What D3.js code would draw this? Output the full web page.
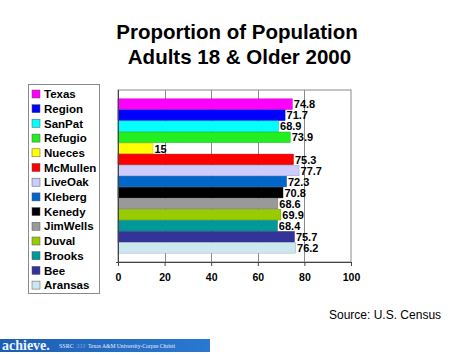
<!DOCTYPE html>
<html>
<head>
<meta charset="utf-8">
<script src="https://cdn.jsdelivr.net/npm/d3@7"></script>
<style>
  html, body { margin: 0; padding: 0; background: #fff; }
  svg { display: block; font-family: "Liberation Sans", Arial, Helvetica, sans-serif; }
</style>
</head>
<body>
<svg id="chart" width="474" height="355"></svg>
<script>
const categories = ["Texas","Region","SanPat","Refugio","Nueces","McMullen","LiveOak","Kleberg","Kenedy","JimWells","Duval","Brooks","Bee","Aransas"];
const values = [74.8, 71.7, 68.9, 73.9, 15, 75.3, 77.7, 72.3, 70.8, 68.6, 69.9, 68.4, 75.7, 76.2];
const valueLabels = ["74.8","71.7","68.9","73.9","15","75.3","77.7","72.3","70.8","68.6","69.9","68.4","75.7","76.2"];
const palette = ["#ff00ff","#0000ff","#00ffff","#22ee22","#ffff00","#ff0000","#ccccff","#0066cc","#000000","#999999","#99cc00","#009999","#333399","#cce8ee"];
const xTicks = [0, 20, 40, 60, 80, 100];
const titleLines = ["Proportion of Population", " Adults 18 & Older 2000"];
const sourceText = "Source: U.S. Census";

const svg = d3.select("#chart");

// Title
svg.append("g").selectAll("text").data(titleLines).join("text")
  .attr("x", 237)
  .attr("y", (d, i) => 38.5 + i * 25.5)
  .attr("text-anchor", "middle")
  .attr("font-size", "20.5px")
  .attr("font-weight", "bold")
  .attr("fill", "#000")
  .attr("xml:space", "preserve")
  .style("white-space", "pre")
  .text(d => d);

// Scales
const x = d3.scaleLinear().domain([0, 100]).range([118, 351]);
const y = d3.scaleBand().domain(categories).range([90, 262]).paddingInner(0.04).paddingOuter(0.8);

// Plot frame and gridlines
const plot = svg.append("g");
plot.append("rect")
  .attr("x", x(0)).attr("y", 90)
  .attr("width", x(100) - x(0)).attr("height", 262 - 90)
  .attr("fill", "none").attr("stroke", "#8a8a8a").attr("stroke-width", 1);
plot.selectAll("line.grid").data(xTicks.slice(1, -1)).join("line")
  .attr("class", "grid")
  .attr("x1", d => Math.round(x(d)) + 0.5).attr("x2", d => Math.round(x(d)) + 0.5)
  .attr("y1", 90).attr("y2", 262)
  .attr("stroke", "#8a8a8a").attr("stroke-width", 1);

// Bars
const data = categories.map((c, i) => ({ c, v: values[i], label: valueLabels[i], color: palette[i] }));
plot.selectAll("rect.bar").data(data).join("rect")
  .attr("class", "bar")
  .attr("x", x(0))
  .attr("y", d => y(d.c))
  .attr("width", d => x(d.v) - x(0))
  .attr("height", y.bandwidth())
  .attr("fill", d => d.color)
  .attr("stroke", d => d3.color(d.color).darker(0.8))
  .attr("stroke-width", 0.5);

// Value labels
plot.selectAll("text.val").data(data).join("text")
  .attr("class", "val")
  .attr("x", d => x(d.v) + 1.5)
  .attr("y", d => y(d.c) + y.bandwidth() / 2)
  .attr("dy", "0.38em")
  .attr("font-size", "11px")
  .attr("font-weight", "bold")
  .attr("fill", "#000")
  .text(d => d.label);

// Left axis line
plot.append("line")
  .attr("x1", x(0) + 0.5).attr("x2", x(0) + 0.5)
  .attr("y1", 90).attr("y2", 265)
  .attr("stroke", "#444").attr("stroke-width", 1);

// Bottom axis
const xAxis = svg.append("g")
  .attr("transform", "translate(0,262)")
  .call(d3.axisBottom(x).tickValues(xTicks).tickSize(4).tickPadding(8).tickSizeOuter(0));
xAxis.select(".domain").attr("stroke", "#444").attr("d", `M${x(0) - 2},0.5H${x(100)}`);
xAxis.selectAll(".tick line").attr("stroke", "#444");
xAxis.selectAll(".tick text")
  .attr("font-size", "10.5px")
  .attr("font-weight", "bold")
  .attr("font-family", "Liberation Sans, Arial, sans-serif")
  .attr("fill", "#000");

// Legend
const legend = svg.append("g");
legend.append("rect")
  .attr("x", 28.5).attr("y", 84.5).attr("width", 71).attr("height", 209)
  .attr("fill", "#fff").attr("stroke", "#8a8a8a").attr("stroke-width", 1);
const items = legend.selectAll("g.item").data(data).join("g")
  .attr("class", "item")
  .attr("transform", (d, i) => `translate(0,${94 + i * 14.7})`);
items.append("rect")
  .attr("x", 32).attr("y", -4).attr("width", 8).attr("height", 8)
  .attr("fill", d => d.color)
  .attr("stroke", "#555").attr("stroke-width", 0.5);
items.append("text")
  .attr("x", 44).attr("y", 0).attr("dy", "0.36em")
  .attr("font-size", "11.5px").attr("font-weight", "bold").attr("fill", "#000")
  .text(d => d.c);

// Source
svg.append("text")
  .attr("x", 329).attr("y", 319)
  .attr("font-size", "12px").attr("fill", "#000")
  .text(sourceText);

// Footer banner
const banner = svg.append("g");
const grad = svg.append("defs").append("linearGradient").attr("id", "bn").attr("x1", 0).attr("x2", 1);
grad.append("stop").attr("offset", 0).attr("stop-color", "#1c5fb4");
grad.append("stop").attr("offset", 1).attr("stop-color", "#2a78d0");
banner.append("rect").attr("x", 0).attr("y", 339).attr("width", 210).attr("height", 13).attr("fill", "url(#bn)");
banner.append("text").attr("x", 2).attr("y", 350)
  .attr("font-family", "Liberation Serif, Times New Roman, serif")
  .attr("font-size", "14px").attr("font-weight", "bold").attr("fill", "#eef3ff")
  .text("achieve.");
banner.append("text").attr("x", 59).attr("y", 348)
  .attr("font-family", "Liberation Serif, serif")
  .attr("font-size", "6px").attr("fill", "#e8eefa").text("SSRC");
banner.append("text").attr("x", 76).attr("y", 348)
  .attr("font-family", "Liberation Serif, serif")
  .attr("font-size", "5px").attr("fill", "#aabbd8").attr("font-style", "italic").text("ℑℑℑ");
banner.append("text").attr("x", 88).attr("y", 348)
  .attr("font-family", "Liberation Serif, serif")
  .attr("font-size", "5.6px").attr("fill", "#e8eefa")
  .text("Texas A&M University-Corpus Christi");
</script>
</body>
</html>
